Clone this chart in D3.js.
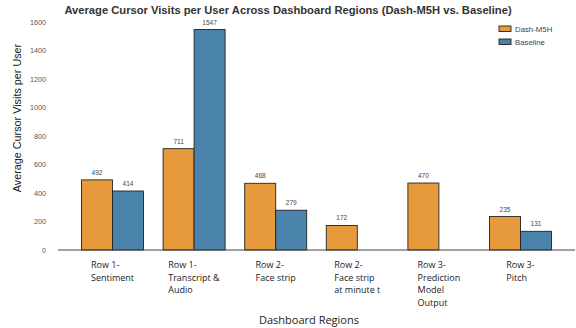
<!DOCTYPE html>
<html><head><meta charset="utf-8">
<script src="https://cdn.jsdelivr.net/npm/d3@7"></script>
<style>body{margin:0;background:#fff}svg{display:block}</style>
</head><body><svg id="c" width="576" height="328"></svg>
<script>
const categories = [
  ["Row 1-","Sentiment"],
  ["Row 1-","Transcript &","Audio"],
  ["Row 2-","Face strip"],
  ["Row 2-","Face strip","at minute t"],
  ["Row 3-","Prediction","Model","Output"],
  ["Row 3-","Pitch"]
];
const seriesNames = ["Dash-M5H","Baseline"];
const dashM5H = [492, 711, 468, 172, 470, 235];
const baseline = [414, 1547, 279, null, null, 131];
const yTicks = [0,200,400,600,800,1000,1200,1400,1600];
const colors = ["#E69A3B","#4B84AB"];

const svg = d3.select("#c");
const x0 = 58, x1 = 575, yB = 250, yT = 22;
const idx = d3.range(categories.length);
const x = d3.scaleLinear().domain([-0.668, 5.668]).range([x0, x1]);
const y = d3.scaleLinear().domain([0,1600]).range([yB, yT]);
const w = 0.38;

svg.append("text").attr("x",288).attr("y",14).attr("text-anchor","middle")
  .attr("font-family","Liberation Sans, Arial, sans-serif").attr("font-weight","bold")
  .attr("font-size",11.2).attr("fill","#333")
  .text("Average Cursor Visits per User Across Dashboard Regions (Dash-M5H vs. Baseline)");

const yAxis = d3.axisLeft(y).tickValues(yTicks).tickFormat(d3.format("d")).tickSize(0).tickPadding(0);
const ga = svg.append("g").attr("transform",`translate(46,0)`).call(yAxis);
ga.select(".domain").remove();
ga.selectAll("text").attr("font-family","Liberation Sans, Arial, sans-serif")
  .attr("font-size",7.2).attr("fill","#555");

const series = [dashM5H, baseline];
series.forEach((vals, s) => {
  svg.append("g").selectAll("rect").data(idx.filter(i => vals[i] != null)).join("rect")
    .attr("x", i => x(i - w + s*w))
    .attr("width", i => x(i + w) - x(i))
    .attr("y", i => y(vals[i]))
    .attr("height", i => y(0) - y(vals[i]))
    .attr("fill", colors[s]).attr("stroke","#222").attr("stroke-width",0.9);
  svg.append("g").selectAll("text").data(idx.filter(i => vals[i] != null)).join("text")
    .attr("x", i => x(i - w/2 + s*w))
    .attr("y", i => y(vals[i]) - 5)
    .attr("text-anchor","middle")
    .attr("font-family","Liberation Sans, Arial, sans-serif")
    .attr("font-size",6.5).attr("fill","#444")
    .text(i => vals[i]);
});

svg.append("line").attr("x1",x0).attr("x2",x1).attr("y1",yB).attr("y2",yB)
  .attr("stroke","#444").attr("stroke-width",1);

const lblG = svg.append("g").attr("font-family","'Open Sans', Lato, sans-serif")
  .attr("font-size",9).attr("fill","#222");
categories.forEach((lines, i) => {
  const g = lblG.append("g");
  const t = g.append("text").attr("y",268);
  lines.forEach((ln, k) => t.append("tspan").attr("x",0).attr("dy", k===0?0:12.5).text(ln));
  const bw = t.node().getBBox().width;
  g.attr("transform",`translate(${x(i) - bw/2},0)`);
});

svg.append("text").attr("x",309).attr("y",324).attr("text-anchor","middle")
  .attr("font-family","'Open Sans', Lato, sans-serif").attr("font-size",11).attr("fill","#222")
  .text("Dashboard Regions");
svg.append("text").attr("transform","translate(21,118) rotate(-90)").attr("text-anchor","middle")
  .attr("font-family","Liberation Sans, Arial, sans-serif").attr("font-size",10.8).attr("fill","#222")
  .text("Average Cursor Visits per User");

const lg = svg.append("g");
seriesNames.forEach((n, s) => {
  const yy = 29 + s*13;
  lg.append("rect").attr("x",499).attr("y",yy-3).attr("width",12).attr("height",5.5)
    .attr("fill",colors[s]).attr("stroke","#222").attr("stroke-width",0.9);
  lg.append("text").attr("x",515).attr("y",yy+2.5)
    .attr("font-family","Liberation Sans, Arial, sans-serif").attr("font-size",7.8).attr("fill","#444")
    .text(n);
});
</script></body></html>
